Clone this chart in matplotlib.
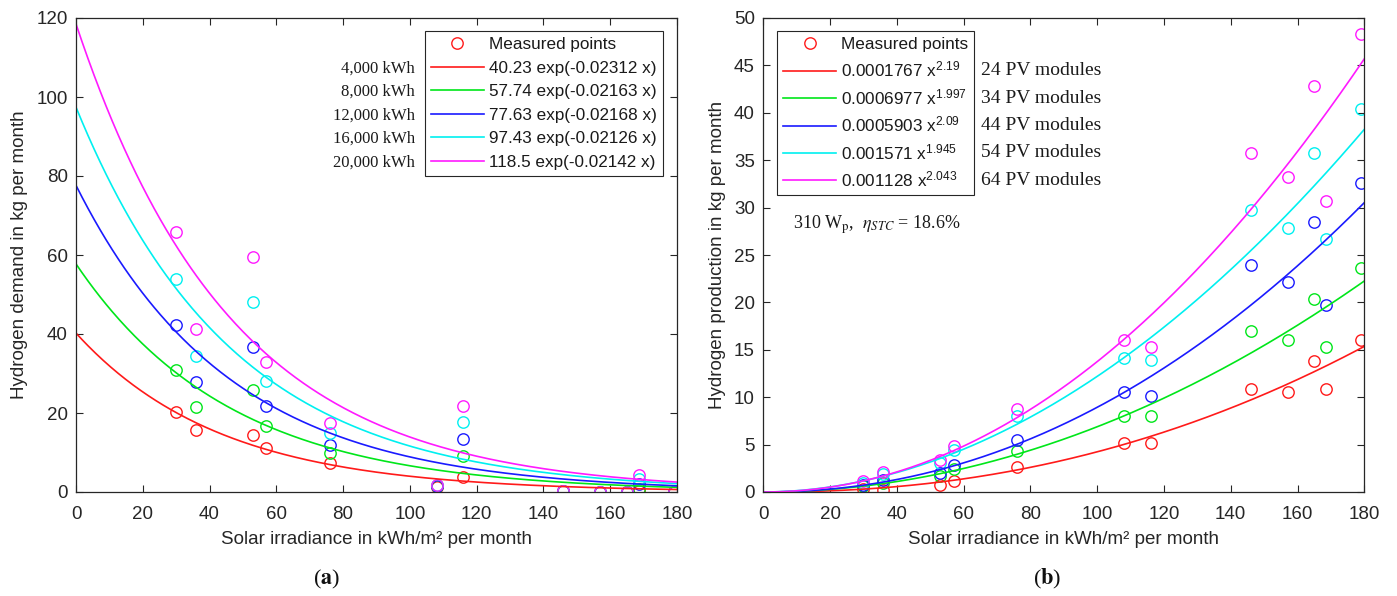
import numpy as np
import matplotlib
matplotlib.use("Agg")
import matplotlib.pyplot as plt
from matplotlib.lines import Line2D

# ---- measured monthly irradiance (kWh/m² per month) ----
irradiance = [30, 36, 53, 57, 76, 108, 116, 146, 157, 165, 168.5, 179]

# ---- (a) hydrogen demand, kg per month, per yearly consumption ----
demand_labels = ["4,000 kWh", "8,000 kWh", "12,000 kWh", "16,000 kWh", "20,000 kWh"]
demand_4000 = [20.2, 15.6, 14.4, 11.1, 7.3, 1.3, 3.9, 0.2, 0.0, 0.1, 0.2, 0.0]
demand_8000 = [31.0, 21.6, 25.7, 16.8, 9.8, 1.5, 9.2, 0.2, 0.0, 0.1, 0.7, 0.0]
demand_12000 = [42.3, 27.8, 36.7, 21.7, 12.0, 1.6, 13.3, 0.2, 0.0, 0.1, 1.9, 0.0]
demand_16000 = [54.0, 34.4, 48.2, 28.0, 14.9, 1.7, 17.6, 0.2, 0.0, 0.1, 3.4, 0.0]
demand_20000 = [65.7, 41.2, 59.4, 33.0, 17.5, 1.8, 21.7, 0.2, 0.0, 0.1, 4.4, 0.0]
# exponential fits a * exp(b * x)
demand_fit_a = [40.23, 57.74, 77.63, 97.43, 118.5]
demand_fit_b = [-0.02312, -0.02163, -0.02168, -0.02126, -0.02142]

# ---- (b) hydrogen production, kg per month, per PV array size ----
production_labels = ["24 PV modules", "34 PV modules", "44 PV modules",
                     "54 PV modules", "64 PV modules"]
production_24 = [0.3, 0.2, 0.7, 1.2, 2.65, 5.2, 5.2, 10.9, 10.6, 13.8, 10.9, 16.0]
production_34 = [0.6, 0.9, 1.7, 2.4, 4.3, 8.0, 8.0, 17.0, 16.0, 20.4, 15.3, 23.6]
production_44 = [0.7, 1.3, 2.0, 2.8, 5.5, 10.5, 10.1, 23.9, 22.1, 28.5, 19.7, 32.6]
production_54 = [1.0, 1.9, 3.1, 4.4, 8.0, 14.1, 13.9, 29.7, 27.9, 35.8, 26.7, 40.4]
production_64 = [1.2, 2.1, 3.4, 4.8, 8.8, 16.0, 15.3, 35.8, 33.2, 42.8, 30.7, 48.3]
# power-law fits a * x ** b
production_fit_a = [0.0001767, 0.0006977, 0.0005903, 0.001571, 0.001128]
production_fit_b = [2.19, 1.997, 2.09, 1.945, 2.043]

colors = ["#ff1a1a", "#00e61a", "#1a1aff", "#00f0f0", "#ff1aff"]

plt.rcParams["font.family"] = ["Liberation Sans", "DejaVu Sans"]
plt.rcParams["mathtext.fontset"] = "custom"
plt.rcParams["mathtext.rm"] = "Liberation Sans"
plt.rcParams["mathtext.it"] = "Liberation Sans:italic"
plt.rcParams["mathtext.bf"] = "Liberation Sans:bold"

W, H = 1397, 596
fig = plt.figure(figsize=(W / 100, H / 100), dpi=100)

ax_l, ax_b, ax_w, ax_h = 76 / W, (H - 492) / H, 601 / W, 474 / H
ax1 = fig.add_axes([ax_l, ax_b, ax_w, ax_h])
ax2 = fig.add_axes([763.3 / W, ax_b, ax_w, ax_h])

dark = "#262626"
ink = "#1a1a1a"
serif = ["Liberation Serif", "DejaVu Serif"]


def style_axes(ax):
    for s in ax.spines.values():
        s.set_color(dark)
        s.set_linewidth(0.9)
    ax.tick_params(direction="in", top=True, right=True, length=5, width=0.8,
                   colors=dark, labelsize=13.5, labelcolor=dark)
    ax.tick_params(axis="x", pad=10)
    ax.tick_params(axis="y", pad=6)
    ax.set_xlim(0, 180)
    ax.set_xticks(np.arange(0, 181, 20))
    ax.set_xlabel("Solar irradiance in kWh/m\u00b2 per month", fontsize=13.5,
                  color=dark, labelpad=6)


def boxed_legend(ax, handles, labels, loc, anchor, spacing):
    leg = ax.legend(handles, labels, loc=loc, bbox_to_anchor=anchor, borderaxespad=0,
                    fontsize=12.3, frameon=True, fancybox=False, framealpha=1,
                    edgecolor=dark, handlelength=3.1, handletextpad=0.3,
                    labelspacing=spacing, borderpad=0.35)
    leg.get_frame().set_linewidth(0.8)
    for t in leg.get_texts():
        t.set_color(ink)
    return leg


xfit = np.linspace(0, 180, 400)
marker_kw = dict(marker="o", linestyle="none", markersize=8.2,
                 markerfacecolor="none", markeredgewidth=1.0)

# ---------------- (a) ----------------
style_axes(ax1)
ax1.set_ylim(0, 120)
ax1.set_yticks(np.arange(0, 121, 20))
ax1.set_ylabel("Hydrogen demand in kg per month", fontsize=13.5, color=dark, labelpad=6)

demand_series = [demand_4000, demand_8000, demand_12000, demand_16000, demand_20000]
handles1 = [Line2D([], [], color=colors[0], **marker_kw)]
labels1 = ["Measured points"]
for c, ys in zip(colors, demand_series):
    ax1.plot(irradiance, ys, color=c, **marker_kw)
for c, a, b in zip(colors, demand_fit_a, demand_fit_b):
    ln, = ax1.plot(xfit, a * np.exp(b * xfit), color=c, linewidth=1.2)
    handles1.append(ln)
    labels1.append(f"{a!r} exp({b!r} x)")

leg1 = boxed_legend(ax1, handles1, labels1, "upper right", (0.976, 0.972), 0.5)

# ---------------- (b) ----------------
style_axes(ax2)
ax2.set_ylim(0, 50)
ax2.set_yticks(np.arange(0, 51, 5))
ax2.set_ylabel("Hydrogen production in kg per month", fontsize=13.5, color=dark, labelpad=6)

production_series = [production_24, production_34, production_44, production_54, production_64]
handles2 = [Line2D([], [], color=colors[0], **marker_kw)]
labels2 = ["Measured points"]
for c, ys in zip(colors, production_series):
    ax2.plot(irradiance, ys, color=c, **marker_kw)
for c, a, b in zip(colors, production_fit_a, production_fit_b):
    ln, = ax2.plot(xfit, a * xfit ** b, color=c, linewidth=1.2)
    handles2.append(ln)
    labels2.append(f"{a!r} x$^{{{b!r}}}$")

leg2 = boxed_legend(ax2, handles2, labels2, "upper left", (0.0233, 0.972), 0.44)

fig.canvas.draw()
inv = fig.transFigure.inverted()

# row labels beside each legend, aligned with the fit entries
for txt, lab in zip(leg1.get_texts()[1:], demand_labels):
    bb = txt.get_window_extent()
    yc = (bb.y0 + bb.y1) / 2
    fx, fy = inv.transform((415, yc))
    fig.text(fx, fy, lab, ha="right", va="center", fontsize=12,
             family=serif, color=ink)

frame2 = leg2.get_frame().get_window_extent()
for txt, lab in zip(leg2.get_texts()[1:], production_labels):
    bb = txt.get_window_extent()
    yc = (bb.y0 + bb.y1) / 2 - 1
    fx, fy = inv.transform((frame2.x1 + 7, yc))
    fig.text(fx, fy, lab, ha="left", va="center", fontsize=14,
             family=serif, color=ink)

fig.text(793 / W, 1 - 225 / H, r"310 W$_{\mathrm{p}}$,  $\eta_{STC}$ = 18.6%",
         ha="left", va="center", fontsize=13, family=serif, color=ink,
         math_fontfamily="stix")

# panel captions
fig.text(327 / W, 1 - 579 / H, r"($\mathbf{a}$)", ha="center", va="center",
         fontsize=16, family=serif, math_fontfamily="stix", color="#111111")
fig.text(1047.5 / W, 1 - 579 / H, r"($\mathbf{b}$)", ha="center", va="center",
         fontsize=16, family=serif, math_fontfamily="stix", color="#111111")

fig.savefig("out.png", dpi=100)
